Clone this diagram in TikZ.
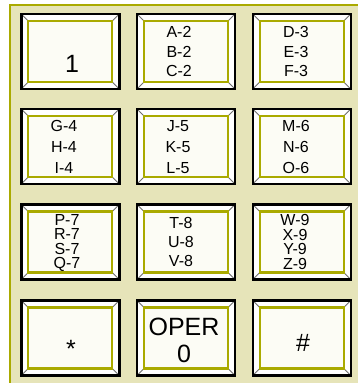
\documentclass[tikz,border=0pt]{standalone}
\usepackage{fontspec}
\setmainfont{Liberation Sans}
\usetikzlibrary{calc}
\definecolor{padbg}{RGB}{230,228,185}
\definecolor{padrim}{RGB}{170,170,0}
\definecolor{keyface}{RGB}{252,252,245}
\definecolor{bevelgray}{RGB}{110,110,110}
\tikzset{
    bevel/.style   ={draw=bevelgray, line width=0.8pt},
    keycap/.style  ={draw=black, line width=2.4pt, fill=white,
                     minimum width=98pt, minimum height=75pt, inner sep=0pt,
                     path picture={
                       \draw[bevel] (path picture bounding box.north west) -- ++(7pt,-7pt);
                       \draw[bevel] (path picture bounding box.north east) -- ++(-7pt,-7pt);
                       \draw[bevel] (path picture bounding box.south west) -- ++(7pt,7pt);
                       \draw[bevel] (path picture bounding box.south east) -- ++(-7pt,7pt);
                       \draw[draw=padrim, line width=2.2pt, fill=keyface]
                         ([shift={(7pt,-7pt)}]path picture bounding box.north west) rectangle
                         ([shift={(-7pt,7pt)}]path picture bounding box.south east);
                     }},
    bigtxt/.style  ={font=\fontsize{25}{27}\selectfont, inner sep=0pt, anchor=base},
    smalltxt/.style={font=\fontsize{16}{#1}\selectfont, inner sep=0pt, align=center},
    smalltxt/.default=20,
    tighttxt/.style={font=\fontsize{16}{14.6}\selectfont, inner sep=0pt, align=center}
}

\begin{document}
\begin{tikzpicture}[x=1pt, y=-1pt]
  \useasboundingbox (0,0) rectangle (358,383);

  % ---- pad background
  \draw[draw=padrim, line width=2pt, fill=padbg] (9.5,4.5) rectangle (372,396);

  % ---- keys
  \node[keycap] (k1)  at ( 70.3, 51.5) {};
  \node[keycap] (k2)  at (186.0, 51.5) {};
  \node[keycap] (k3)  at (301.8, 51.5) {};
  \node[keycap] (k4)  at ( 70.3,146.5) {};
  \node[keycap] (k5)  at (186.0,146.5) {};
  \node[keycap] (k6)  at (301.8,146.5) {};
  \node[keycap] (k7)  at ( 70.3,242.0) {};
  \node[keycap] (k8)  at (186.0,242.0) {};
  \node[keycap] (k9)  at (301.8,242.0) {};
  \node[keycap] (k10) at ( 70.3,338.0) {};
  \node[keycap] (k11) at (186.0,338.0) {};
  \node[keycap] (k12) at (301.8,338.0) {};

  % ---- key labels
  \node[bigtxt] (t1) at (72,72) {1};
  \node[smalltxt=19.5] (t2) at (179,51.7) {A-2\\B-2\\C-2};
  \node[smalltxt=19.5] (t3) at (296,51.5) {D-3\\E-3\\F-3};
  \node[smalltxt=21]   (t4) at (64,147)   {G-4\\H-4\\I-4};
  \node[smalltxt=21]   (t5) at (178,147)  {J-5\\K-5\\L-5};
  \node[smalltxt=21]   (t6) at (296,147)  {M-6\\N-6\\O-6};
  \node[tighttxt]      (t7) at (67,243)   {P-7\\R-7\\S-7\\Q-7};
  \node[smalltxt=19]   (t8) at (181,242)  {T-8\\U-8\\V-8};
  \node[tighttxt]      (t9) at (295,242)  {W-9\\X-9\\Y-9\\Z-9};
  \node[bigtxt] (t10) at (71,357.5) {*};
  \node[bigtxt, anchor=center, align=center] (t11) at (184,340) {OPER\\0};
  \node[bigtxt] (t12) at (303,351.7) {\#};
\end{tikzpicture}
\end{document}
